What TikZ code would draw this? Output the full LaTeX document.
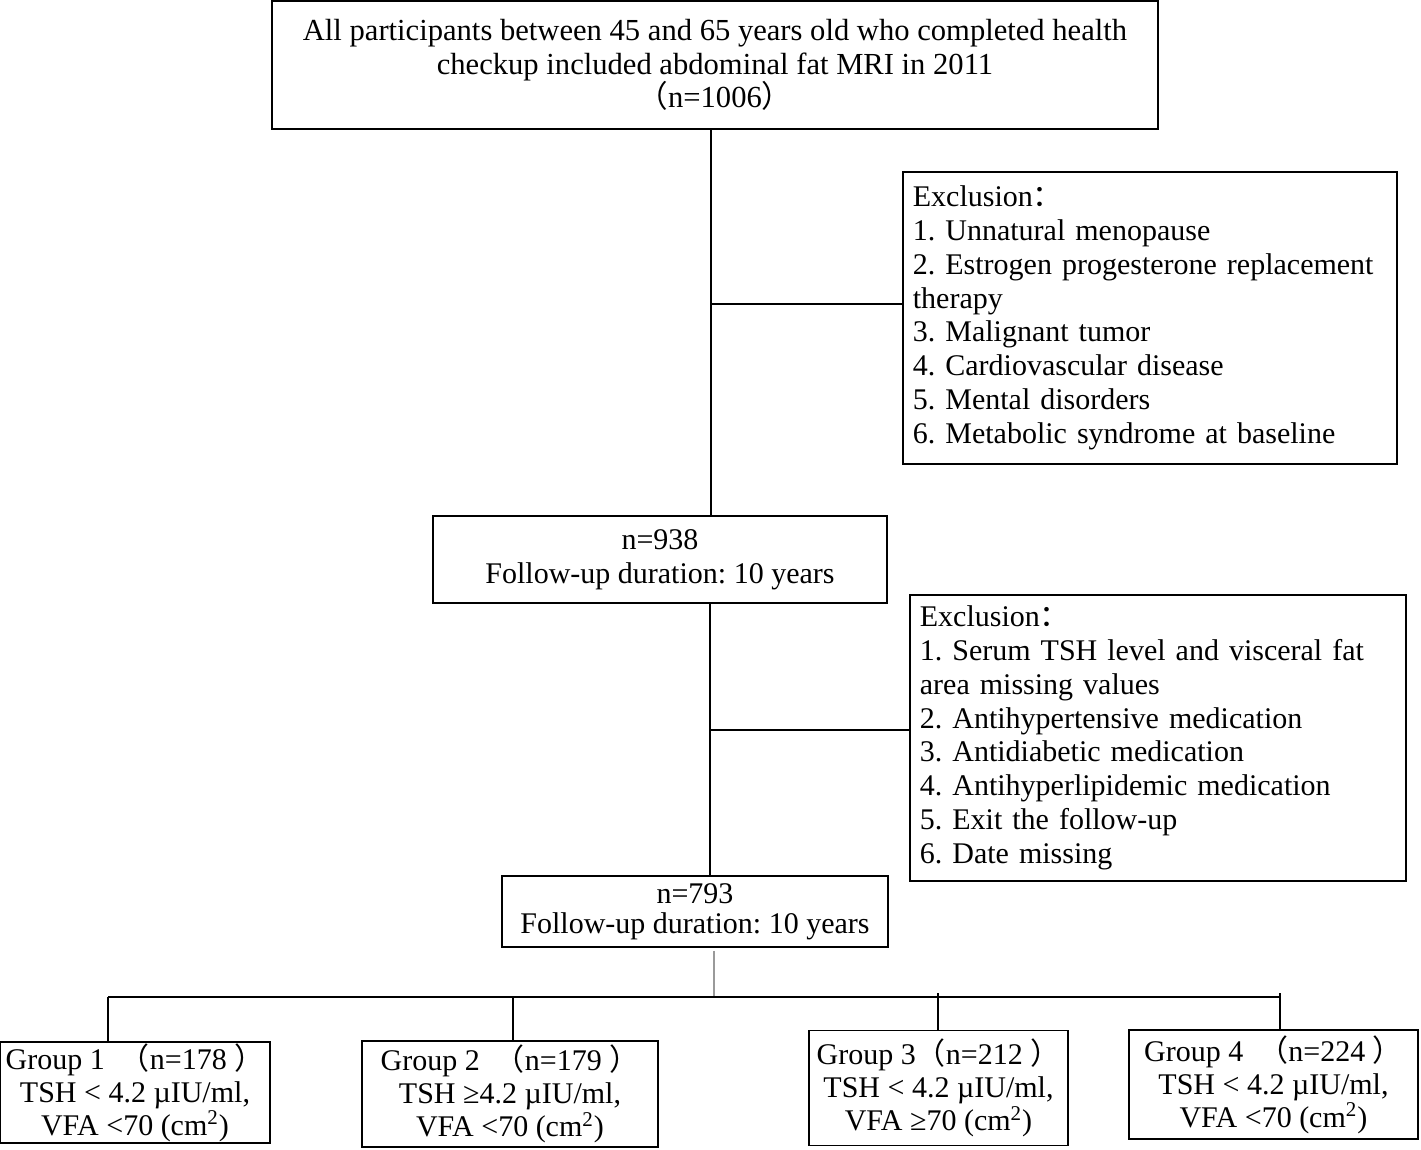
\documentclass[tikz,border=0pt]{standalone}
\usepackage{fontspec}
\setmainfont{Liberation Serif}
\newfontfamily\cjk{Noto Sans CJK SC}
\usetikzlibrary{positioning}
\definecolor{lineGray}{HTML}{9A9A9A}
\newcommand{\lp}{{\cjk （}}
\newcommand{\rp}{{\cjk ）}}
\newcommand{\colonfw}{{\cjk ：}}
\frenchspacing

\begin{document}
\begin{tikzpicture}[x=0.5pt, y=-0.5pt, font=\fontsize{15}{16.9}\selectfont,
    box/.style={draw, line width=0.9pt, align=center, inner sep=0pt},
    exbox/.style={draw, line width=0.9pt, align=left, anchor=north west,
                  inner xsep=5pt, inner ysep=0pt},
    link/.style={line width=0.9pt}]
  \useasboundingbox (0,0) rectangle (1421,1150);
  \node[box, minimum width=443pt, minimum height=64pt,
        font=\fontsize{15.3}{16.9}\selectfont] (all) at (715,65)
    {All participants between 45 and 65 years old who completed health\\
     checkup included abdominal fat MRI in 2011\\ \lp n=1006\rp};
  \node[exbox, text width=237pt, minimum height=146pt] (excl1) at (902,171)
    {Exclusion\colonfw\\
     1. Unnatural menopause\\
     2. Estrogen progesterone replacement\\
     therapy\\
     3. Malignant tumor\\
     4. Cardiovascular disease\\
     5. Mental disorders\\
     6. Metabolic syndrome at baseline};
  \node[box, minimum width=227pt, minimum height=43.5pt] (n938) at (660,559.5)
    {n=938\\ Follow-up duration: 10 years};
  \node[exbox, text width=238pt, minimum height=143pt] (excl2) at (909,594)
    {Exclusion\colonfw\\
     1. Serum TSH level and visceral fat\\
     area missing values\\
     2. Antihypertensive medication\\
     3. Antidiabetic medication\\
     4. Antihyperlipidemic medication\\
     5. Exit the follow-up\\
     6. Date missing};
  \node[box, minimum width=193pt, minimum height=35.5pt,
        font=\fontsize{15}{15}\selectfont] (n793) at (695,911.5)
    {n=793\\ Follow-up duration: 10 years};
  \node[box, minimum width=135pt, minimum height=50.5pt,
        font=\fontsize{15}{16.5}\selectfont] (g1) at (135,1092.5)
    {Group 1\enspace\lp n=178 \rp\\ TSH < 4.2 µIU/ml,\\ VFA <70 (cm\textsuperscript{2})};
  \node[box, minimum width=148pt, minimum height=53pt,
        font=\fontsize{15}{16.5}\selectfont] (g2) at (510,1094)
    {Group 2\enspace\lp n=179 \rp\\ TSH ≥4.2 µIU/ml,\\ VFA <70 (cm\textsuperscript{2})};
  \node[box, minimum width=129.5pt, minimum height=57.5pt,
        font=\fontsize{15}{16.5}\selectfont] (g3) at (938.5,1088)
    {Group 3\lp n=212 \rp\\ TSH < 4.2 µIU/ml,\\ VFA ≥70 (cm\textsuperscript{2})};
  \node[box, minimum width=144.5pt, minimum height=54.5pt,
        font=\fontsize{15}{16.5}\selectfont] (g4) at (1273.5,1084.5)
    {Group 4\enspace\lp n=224 \rp\\ TSH < 4.2 µIU/ml,\\ VFA <70 (cm\textsuperscript{2})};

  \coordinate (trunk1) at (711,304);
  \coordinate (trunk2) at (710,730);
  \coordinate (bus) at (714,997);
  \coordinate (d1) at (108,997);
  \coordinate (d2) at (513,997);
  \coordinate (d3) at (938,993);
  \coordinate (d4) at (1280,993);

  \draw[link] (all.south -| trunk1) -- (n938.north -| trunk1);
  \draw[link] (trunk1) -- (trunk1 -| excl1.west);
  \draw[link] (n938.south -| trunk2) -- (n793.north -| trunk2);
  \draw[link] (trunk2) -- (trunk2 -| excl2.west);
  \draw[link, lineGray] ([yshift=-1.5pt]n793.south -| bus) -- (bus);
  \draw[link] (d1) -- (d4 |- d1);
  \draw[link] (d1) -- (d1 |- g1.north);
  \draw[link] (d2) -- (d2 |- g2.north);
  \draw[link] (d3) -- (d3 |- g3.north);
  \draw[link] (d4) -- (d4 |- g4.north);
\end{tikzpicture}
\end{document}
